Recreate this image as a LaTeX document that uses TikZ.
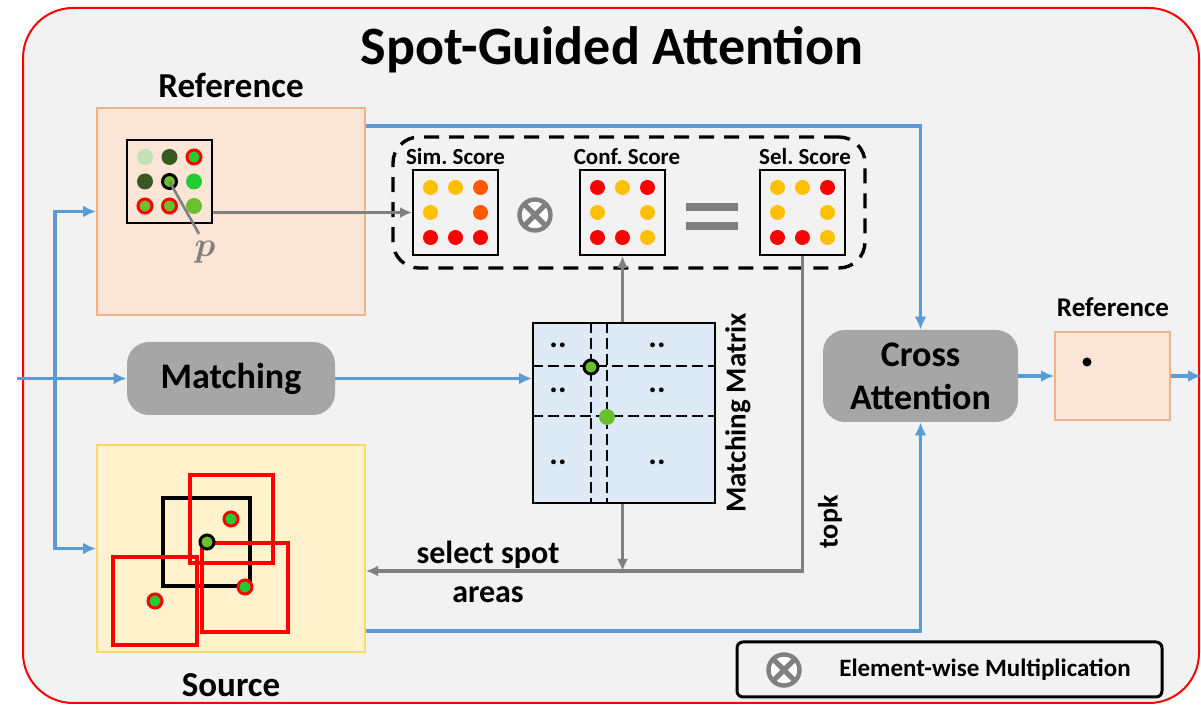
\documentclass[tikz,border=0pt]{standalone}
\usepackage{fontspec}
\setmainfont{Carlito}
\usepackage{amsmath}
\usetikzlibrary{arrows.meta}
\pgfdeclarelayer{bglayer}
\pgfdeclarelayer{nodelayer}
\pgfdeclarelayer{edgelayer}
\pgfsetlayers{bglayer,nodelayer,edgelayer,main}
\definecolor{panelgray}{HTML}{F2F2F2}
\definecolor{flowblue}{HTML}{5B9BD5}
\definecolor{linegray}{HTML}{808080}
\definecolor{blockgray}{HTML}{A6A6A6}
\definecolor{peachfill}{HTML}{FBE5D6}
\definecolor{peachdraw}{HTML}{F4B183}
\definecolor{srcfill}{HTML}{FFF2CC}
\definecolor{srcdraw}{HTML}{FFD966}
\definecolor{matfill}{HTML}{DEEBF7}
\definecolor{spotyellow}{HTML}{FFC000}
\definecolor{spotorange}{HTML}{FF5A00}
\definecolor{spotred}{HTML}{FF0000}
\definecolor{lightgreen}{HTML}{C5E0B4}
\definecolor{darkgreen}{HTML}{385723}
\definecolor{brightgreen}{HTML}{22CC33}
\definecolor{midgreen}{HTML}{6CBF30}
\tikzstyle{frame}=[draw=spotred,line width=1pt,fill=panelgray,rounded corners=25pt]
\tikzstyle{title}=[font=\fontsize{27}{30}\selectfont\bfseries]
\tikzstyle{heading}=[font=\fontsize{17.5}{20}\selectfont\bfseries]
\tikzstyle{smallhead}=[font=\fontsize{11.5}{13}\selectfont\bfseries]
\tikzstyle{panel}=[rectangle,minimum width=134pt,minimum height=103.5pt,line width=1pt]
\tikzstyle{refpanel}=[panel,fill=peachfill,draw=peachdraw]
\tikzstyle{srcpanel}=[panel,fill=srcfill,draw=srcdraw]
\tikzstyle{block}=[rectangle,rounded corners=11pt,fill=blockgray,align=center,font=\fontsize{18}{21.5}\selectfont\bfseries]
\tikzstyle{scoregrid}=[rectangle,draw=black,line width=1pt,minimum size=42.5pt]
\tikzstyle{scorebox}=[rectangle,draw=black,line width=1.7pt,dash pattern=on 7.5pt off 5pt,rounded corners=13pt,minimum width=236pt,minimum height=65.5pt]
\tikzstyle{spot}=[circle,inner sep=0pt,minimum size=7.5pt]
\tikzstyle{ydot}=[spot,fill=spotyellow]
\tikzstyle{odot}=[spot,fill=spotorange]
\tikzstyle{rdot}=[spot,fill=spotred]
\tikzstyle{lgdot}=[spot,minimum size=8pt,fill=lightgreen]
\tikzstyle{dgdot}=[spot,minimum size=8pt,fill=darkgreen]
\tikzstyle{bgdot}=[spot,minimum size=8pt,fill=brightgreen]
\tikzstyle{mgdot}=[spot,minimum size=8pt,fill=midgreen]
\tikzstyle{rgdot}=[spot,minimum size=7pt,fill=brightgreen,draw=spotred,line width=1.5pt]
\tikzstyle{rmdot}=[spot,minimum size=7pt,fill=midgreen,draw=spotred,line width=1.5pt]
\tikzstyle{kgdot}=[spot,minimum size=7pt,fill=midgreen,draw=black,line width=1.5pt]
\tikzstyle{pairdots}=[inner sep=0pt,font=\fontsize{16}{16}\selectfont\bfseries]
\tikzstyle{mulsym}=[circle,draw=linegray,fill=white,line width=2.2pt,minimum size=15.5pt,inner sep=0pt,
  path picture={\draw[linegray,line width=2.6pt] (path picture bounding box.north west) -- (path picture bounding box.south east)
    (path picture bounding box.north east) -- (path picture bounding box.south west);}]
\tikzstyle{eqbar}=[rectangle,fill=linegray,inner sep=0pt,minimum width=26pt,minimum height=4pt]
\tikzstyle{matdash}=[draw=black,line width=1.4pt,dash pattern=on 5.5pt off 2.5pt]
\tikzstyle{flowarrow}=[-{Latex[length=6.5pt,width=6pt]},draw=flowblue,line width=1.7pt]
\tikzstyle{guidearrow}=[-{Latex[length=6pt,width=5.5pt]},draw=linegray,line width=1.6pt]
\tikzstyle{pointer}=[draw=linegray,line width=1.3pt]

\begin{document}
\begin{tikzpicture}[x=0.5pt,y=-0.5pt]
	\useasboundingbox (0,0) rectangle (1201,705);
	\begin{pgfonlayer}{bglayer}
		\draw [style=frame] (23,8) rectangle (1199,703);
	\end{pgfonlayer}
	\begin{pgfonlayer}{nodelayer}
		\node [style=title] (title) at (612,50) {Spot-Guided Attention};
		% reference and source panels
		\node [style=heading] (reflabel) at (231,85) {Reference};
		\node [style=refpanel] (refbox) at (231,211.5) {};
		\node [style=scoregrid, minimum height=41.5pt] (grid) at (169.5,181.5) {};
		\foreach \c/\i/\j in {lgdot/1/1, dgdot/2/1, rgdot/3/1, dgdot/1/2, kgdot/2/2, bgdot/3/2, rmdot/1/3, rmdot/2/3, mgdot/3/3}
			\node [style=\c] (grid\i\j) at ([shift={(24.5*\i-49,24.5*\j-49)}]grid) {};
		\node [text=linegray, font=\fontsize{18}{18}\selectfont] (plabel) at (205,252) {$\boldsymbol{p}$};
		\node [style=srcpanel] (source) at (231,548.5) {};
		\node [style=heading] (srclabel) at (231,685) {Source};
		% score maps
		\node [style=scorebox] (scores) at (629,202.5) {};
		\node [style=scoregrid] (sim) at (455.5,212.5) {};
		\node [style=scoregrid] (conf) at (622.5,212.5) {};
		\node [style=scoregrid] (sel) at (802.5,212.5) {};
		\node [style=smallhead] (simlabel) at (455.5,157) {Sim.\ Score};
		\node [style=smallhead] (conflabel) at (627,157) {Conf.\ Score};
		\node [style=smallhead] (sellabel) at (805,157) {Sel.\ Score};
		\foreach \c/\i/\j in {ydot/1/1, ydot/2/1, odot/3/1, ydot/1/2, odot/3/2, rdot/1/3, rdot/2/3, rdot/3/3}
			\node [style=\c] (sim\i\j) at ([shift={(25*\i-50,25*\j-50)}]sim) {};
		\foreach \c/\i/\j in {rdot/1/1, ydot/2/1, rdot/3/1, ydot/1/2, ydot/3/2, rdot/1/3, rdot/2/3, ydot/3/3}
			\node [style=\c] (conf\i\j) at ([shift={(25*\i-50,25*\j-50)}]conf) {};
		\foreach \c/\i/\j in {ydot/1/1, ydot/2/1, rdot/3/1, ydot/1/2, ydot/3/2, rdot/1/3, rdot/2/3, ydot/3/3}
			\node [style=\c] (sel\i\j) at ([shift={(25*\i-50,25*\j-50)}]sel) {};
		\node [style=mulsym] (times) at (535,215) {};
		\node [style=eqbar] (eqtop) at (712,207) {};
		\node [style=eqbar] (eqbot) at (712,226) {};
		% matching
		\node [style=block, minimum width=104pt, minimum height=36.5pt] (match) at (231,378.5) {Matching};
		\node [rectangle, draw=black, line width=1pt, fill=matfill, minimum width=91pt, minimum height=90pt] (matchmat) at (624,413) {};
		\node [heading, font=\fontsize{14.5}{16}\selectfont\bfseries, rotate=90] (matlabel) at (738,413) {Matching Matrix};
		\foreach \x/\y [count=\n] in {558/345, 657/345, 558/390, 657/390, 558/462, 657/462}
			\node [style=pairdots] (pair\n) at (\x,\y) {..};
		% attention and output
		\node [style=block, minimum width=97.5pt, minimum height=46pt] (cross) at (920.5,376) {Cross\\Attention};
		\node [style=refpanel, minimum width=57.5pt, minimum height=44pt] (refout) at (1112.5,376) {};
		\node [font=\fontsize{13.5}{15}\selectfont\bfseries] (refoutlabel) at (1113,307) {Reference};
		\node [spot, fill=black, minimum size=4.5pt] (query) at (1087,362) {};
		% legend
		\node [rectangle, draw=black, line width=1.5pt, rounded corners=3pt, minimum width=212.5pt, minimum height=27.5pt] (legend) at (949.5,669.5) {};
		\node [style=mulsym] (legendsym) at (784,670) {};
		\node [font=\fontsize{12.5}{14}\selectfont\bfseries] (legendtext) at (985,670) {Element-wise Multiplication};
		% labels on the links
		\node [font=\fontsize{16}{19.5}\selectfont\bfseries, align=center] (spotlabel) at (488,572) {select spot\\areas};
		\node [font=\fontsize{14}{16}\selectfont\bfseries, rotate=90] (topklabel) at (830,522) {topk};
		\coordinate (in) at (17,378.5);
		\coordinate (split) at (55,378.5);
		\coordinate (join) at (622.5,571);
		\coordinate (out) at (1201,376);
	\end{pgfonlayer}
	\begin{pgfonlayer}{edgelayer}
		% spots inside the matching matrix
		\draw [style=matdash] ([xshift=-16.5pt]matchmat.north) -- ([xshift=-16.5pt]matchmat.south);
		\draw [style=matdash] ([xshift=-8.5pt]matchmat.north) -- ([xshift=-8.5pt]matchmat.south);
		\draw [style=matdash] ([yshift=-22pt]matchmat.north west) -- ([yshift=-22pt]matchmat.north east);
		\draw [style=matdash] ([yshift=-47pt]matchmat.north west) -- ([yshift=-47pt]matchmat.north east);
		% candidate windows in the source
		\draw [black, line width=2pt] (163,498) rectangle (250,586);
		\draw [spotred, line width=2pt] (190,475) rectangle (273,563);
		\draw [spotred, line width=2pt] (113,557) rectangle (197,645);
		\draw [spotred, line width=2pt] (202,543) rectangle (288,632);
		% links
		\draw [style=pointer] (grid22.center) -- ([xshift=-3pt]plabel.north);
		\draw [style=guidearrow] (grid.east |- sim.west) -- (sim.west);
		\draw [style=guidearrow] (matchmat.north -| join) -- (conf.south);
		\draw [style=guidearrow] (matchmat.south -| join) -- (join);
		\draw [style=guidearrow] (sel.south) |- (join -| source.east);
		\draw [style=flowarrow] (in) -- (match.west);
		\draw [style=flowarrow] (split) |- (refbox.west);
		\draw [style=flowarrow] (split) |- (source.west);
		\draw [style=flowarrow] (match.east) -- (match.east -| matchmat.west);
		\draw [style=flowarrow] ([yshift=-9.5pt]refbox.north east) -| (cross.north);
		\draw [style=flowarrow] ([yshift=11pt]source.south east) -| (cross.south);
		\draw [style=flowarrow] (cross.east) -- (refout.west);
		\draw [style=flowarrow] (refout.east) -- (out);
	\end{pgfonlayer}
	% spots on top of the windows
	\node [style=kgdot] (srcp) at (207,542) {};
	\node [style=rgdot] (srcq1) at (231,519) {};
	\node [style=rgdot] (srcq2) at (155,601) {};
	\node [style=rgdot] (srcq3) at (245,587) {};
	\node [style=kgdot] (matp) at (591,367) {};
	\node [style=mgdot] (matq) at (607,417) {};
\end{tikzpicture}
\end{document}
